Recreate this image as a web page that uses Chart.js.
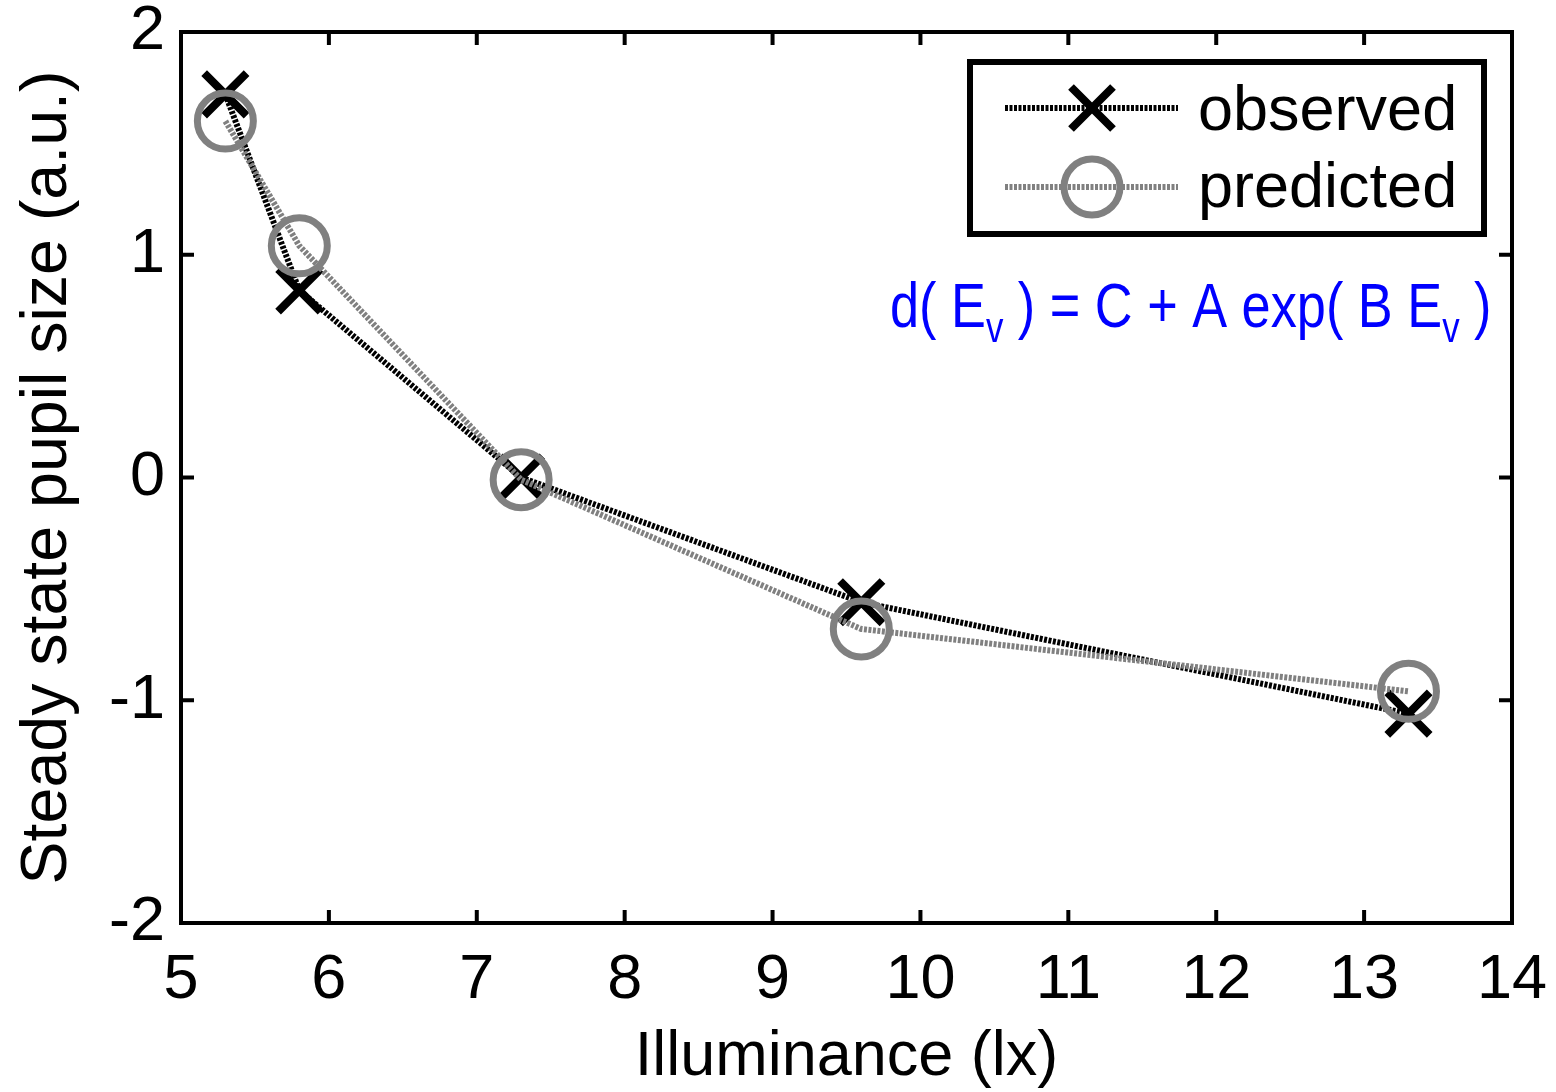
<!DOCTYPE html>
<html>
<head>
<meta charset="utf-8">
<script src="https://cdn.jsdelivr.net/npm/chart.js@4.4.1/dist/chart.umd.min.js"></script>
<style>
  html, body { margin: 0; padding: 0; background: #fff; }
  #wrap { width: 1556px; height: 1092px; }
</style>
</head>
<body>
<div id="wrap"><canvas id="grafico"></canvas></div>
<script>
// values
const illuminance = [5.3, 5.8, 7.3, 9.6, 13.3];
const observed = [1.72, 0.84, 0.0, -0.56, -1.06];
const predicted = [1.60, 1.04, -0.01, -0.68, -0.96];
const xTicks = [5, 6, 7, 8, 9, 10, 11, 12, 13, 14];
const yTicks = [-2, -1, 0, 1, 2];

const FONT = "'Liberation Sans', Arial, sans-serif";
const GRAY = '#808080';
const DASH = [3, 1.5];

function pts(ys) {
    return illuminance.map((x, i) => ({ x: x, y: ys[i] }));
}

function drawCross(ctx, x, y) {
    ctx.save();
    ctx.strokeStyle = '#000';
    ctx.lineWidth = 8;
    ctx.setLineDash([]);
    ctx.beginPath();
    ctx.moveTo(x - 21, y - 21); ctx.lineTo(x + 21, y + 21);
    ctx.moveTo(x - 21, y + 21); ctx.lineTo(x + 21, y - 21);
    ctx.stroke();
    ctx.restore();
}

function drawRing(ctx, x, y) {
    ctx.save();
    ctx.strokeStyle = GRAY;
    ctx.lineWidth = 7;
    ctx.setLineDash([]);
    ctx.beginPath();
    ctx.arc(x, y, 28, 0, Math.PI * 2);
    ctx.stroke();
    ctx.restore();
}

// box, inward ticks, legend and the formula
const extras = {
    id: 'extras',
    afterDraw(chart) {
        const ctx = chart.ctx;
        const a = chart.chartArea;
        const sx = chart.scales.x, sy = chart.scales.y;
        ctx.save();
        ctx.strokeStyle = '#000';
        ctx.lineWidth = 4;
        ctx.strokeRect(a.left, a.top, a.right - a.left, a.bottom - a.top);
        ctx.beginPath();
        xTicks.forEach(v => {
            const px = sx.getPixelForValue(v);
            ctx.moveTo(px, a.bottom); ctx.lineTo(px, a.bottom - 13);
            ctx.moveTo(px, a.top); ctx.lineTo(px, a.top + 13);
        });
        yTicks.forEach(v => {
            const py = sy.getPixelForValue(v);
            ctx.moveTo(a.left, py); ctx.lineTo(a.left + 13, py);
            ctx.moveTo(a.right, py); ctx.lineTo(a.right - 13, py);
        });
        ctx.stroke();

        // legend
        ctx.fillStyle = '#fff';
        ctx.fillRect(970, 62, 514, 172);
        ctx.lineWidth = 6;
        ctx.strokeRect(970, 62, 514, 172);

        ctx.lineWidth = 6;
        ctx.setLineDash(DASH);
        ctx.strokeStyle = '#000';
        ctx.beginPath(); ctx.moveTo(1005, 108); ctx.lineTo(1178, 108); ctx.stroke();
        ctx.strokeStyle = GRAY;
        ctx.beginPath(); ctx.moveTo(1005, 187); ctx.lineTo(1178, 187); ctx.stroke();
        ctx.setLineDash([]);
        drawCross(ctx, 1092, 108);
        drawRing(ctx, 1092, 187);

        ctx.fillStyle = '#000';
        ctx.font = '63px ' + FONT;
        ctx.textAlign = 'left';
        ctx.textBaseline = 'alphabetic';
        ctx.fillText('observed', 1198, 130);
        ctx.fillText('predicted', 1198, 207);

        // formula, narrow like the original
        const squeeze = 0.83;
        ctx.fillStyle = '#0000ff';
        ctx.translate(890, 0);
        ctx.scale(squeeze, 1);
        let x = 0;
        const parts = [
            ['d( E', 63, 327],
            ['v', 42, 342],
            [' ) = C + A exp( B E', 63, 327],
            ['v', 42, 342],
            [' )', 63, 327]
        ];
        parts.forEach(p => {
            ctx.font = p[1] + 'px ' + FONT;
            ctx.fillText(p[0], x, p[2]);
            x += ctx.measureText(p[0]).width;
        });
        ctx.restore();
    }
};

new Chart(document.getElementById('grafico'), {
    type: 'line',
    data: {
        datasets: [
            {
                label: 'observed',
                data: pts(observed),
                borderColor: '#000',
                borderWidth: 6,
                borderDash: DASH,
                pointStyle: 'crossRot',
                pointRadius: 30,
                pointBorderWidth: 8,
                pointBorderColor: '#000',
                pointBackgroundColor: 'rgba(0,0,0,0)',
                tension: 0,
                order: 2
            },
            {
                label: 'predicted',
                data: pts(predicted),
                borderColor: GRAY,
                borderWidth: 6,
                borderDash: DASH,
                pointStyle: 'circle',
                pointRadius: 28,
                pointBorderWidth: 7,
                pointBorderColor: GRAY,
                pointBackgroundColor: 'rgba(0,0,0,0)',
                tension: 0,
                order: 1
            }
        ]
    },
    options: {
        responsive: true,
        maintainAspectRatio: false,
        animation: false,
        clip: false,
        layout: { autoPadding: false, padding: { left: 0, right: 44, top: 32, bottom: 0 } },
        plugins: {
            legend: { display: false },
            tooltip: { enabled: false }
        },
        scales: {
            x: {
                type: 'linear',
                min: 5,
                max: 14,
                afterFit: s => {
                    s.height = 169;
                    s.paddingLeft = 0;
                    s.paddingRight = 0;
                },
                afterBuildTicks: s => { s.ticks = xTicks.map(v => ({ value: v })); },
                grid: { display: false, drawTicks: false },
                border: { display: false },
                ticks: {
                    color: '#000',
                    padding: 20,
                    font: { family: FONT, size: 63 }
                },
                title: {
                    display: true,
                    text: 'Illuminance (lx)',
                    color: '#000',
                    padding: { top: 0, bottom: -3 },
                    font: { family: FONT, size: 63, lineHeight: 1.2 }
                }
            },
            y: {
                min: -2,
                max: 2,
                afterFit: s => {
                    s.width = 181;
                    s.paddingTop = 0;
                    s.paddingBottom = 0;
                },
                afterBuildTicks: s => { s.ticks = yTicks.map(v => ({ value: v })); },
                grid: { display: false, drawTicks: false },
                border: { display: false },
                ticks: {
                    color: '#000',
                    padding: 16,
                    font: { family: FONT, size: 63 }
                },
                title: {
                    display: true,
                    text: 'Steady state pupil size (a.u.)',
                    color: '#000',
                    padding: { top: 10, bottom: 0 },
                    font: { family: FONT, size: 64.5, lineHeight: 1.2 }
                }
            }
        }
    },
    plugins: [extras]
});
</script>
</body>
</html>
